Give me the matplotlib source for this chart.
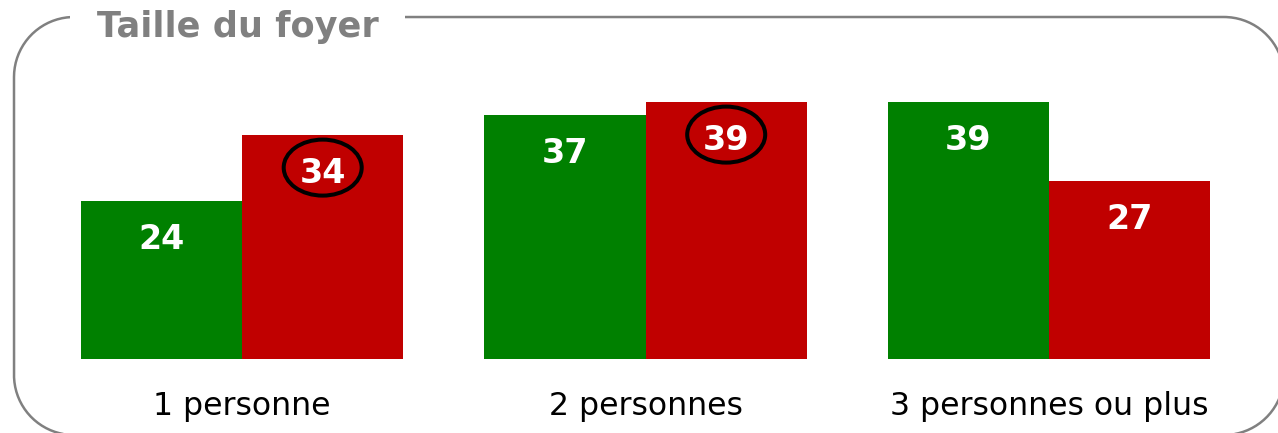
import numpy as np
import matplotlib
matplotlib.use("Agg")
import matplotlib.pyplot as plt
from matplotlib.patches import Rectangle, Ellipse

# ---- data ----
title = "Taille du foyer"
categories = ["1 personne", "2 personnes", "3 personnes ou plus"]
green_values = [24, 37, 39]
red_values = [34, 39, 27]
circled_red = [True, True, False]

GREEN = "#008000"
RED = "#C00000"
GRAY = "#808080"

W, H = 1278, 433
fig = plt.figure(figsize=(W / 100, H / 100), dpi=100)

# background axes in pixel coordinates (y measured from bottom)
bg = fig.add_axes([0, 0, 1, 1])
bg.set_xlim(0, W)
bg.set_ylim(0, H)
bg.axis("off")


def Y(y_top):
    return H - y_top


# rounded frame as polyline
left, right, top, bottom, r = 14, 1284, Y(17), Y(435), 60
corners = [
    (right - r, top - r, 0, 90),      # top-right
    (left + r, top - r, 90, 180),     # top-left
    (left + r, bottom + r, 180, 270), # bottom-left
    (right - r, bottom + r, 270, 360) # bottom-right
]
xs, ys = [], []
for cx, cy, a0, a1 in corners:
    t = np.radians(np.linspace(a0, a1, 40))
    xs.extend(cx + r * np.cos(t))
    ys.extend(cy + r * np.sin(t))
xs.append(xs[0])
ys.append(ys[0])
bg.plot(xs, ys, color=GRAY, lw=1.8, clip_on=False, solid_capstyle="round")

bg.add_patch(Rectangle((70, Y(34)), 405 - 70, 30, fc="white", ec="none",
                       zorder=3, clip_on=False))
bg.text(97, Y(37), title, ha="left", va="baseline", fontsize=25.3,
        fontweight="bold", color=GRAY, family="DejaVu Sans", zorder=4)

# main axes
ax = fig.add_axes([40.25 / W, 74 / H, 1210.5 / W, 297 / H])
ax.set_facecolor("none")
ax.set_xlim(-0.5, 2.5)
ax.set_ylim(0, 45)
ax.axis("off")

x = np.arange(len(categories))
bw = 0.4
ax.bar(x - bw / 2, green_values, width=bw, color=GREEN, linewidth=0)
ax.bar(x + bw / 2, red_values, width=bw, color=RED, linewidth=0)

px_per_unit = 297 / 45
for xi, gv, rv, circ in zip(x, green_values, red_values, circled_red):
    for xc, v in ((xi - bw / 2, gv), (xi + bw / 2, rv)):
        ax.text(xc, v - 48.5 / px_per_unit, f"{v}", ha="center", va="baseline",
                fontsize=24, fontweight="bold", color="white")
    if circ:
        ax.add_patch(Ellipse((xi + bw / 2, rv - 33 / px_per_unit),
                             width=78 / 403.5, height=56 / px_per_unit,
                             fc="none", ec="black", lw=2.9, zorder=5))

for xi, cat in zip(x, categories):
    ax.text(xi, -56 / px_per_unit, cat, ha="center", va="baseline",
            fontsize=22.7, color="black")

fig.savefig("out.png", dpi=100)
